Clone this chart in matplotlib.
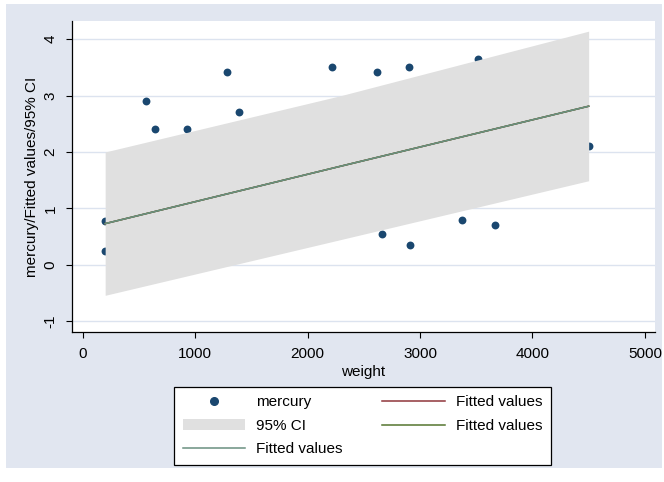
import numpy as np
import matplotlib
matplotlib.use("Agg")
import matplotlib.pyplot as plt
from matplotlib.patches import Rectangle, Patch
from matplotlib.lines import Line2D

# mercury vs weight observations
weight = [200, 200, 560, 640, 930, 1280, 1390, 2220, 2620, 2900,
          2665, 2915, 3370, 3515, 3665, 4500]
mercury = [0.77, 0.24, 2.91, 2.41, 2.41, 3.41, 2.71, 3.51, 3.41, 3.51,
           0.55, 0.35, 0.80, 3.64, 0.70, 2.11]

# linear fit and its 95% band, read at a few weights
fit_x = [200, 2300, 4500]
fit_y = [0.73, 1.75, 2.81]
ci_lo = [-0.54, 0.45, 1.49]
ci_hi = [2.00, 3.00, 4.14]

W, H = 664, 482
plt.rcParams['font.family'] = ['Liberation Sans', 'DejaVu Sans']
plt.rcParams['axes.unicode_minus'] = False
fs = 11

fig = plt.figure(figsize=(W / 100, H / 100), dpi=100, facecolor="white")
# graph region
fig.patches.append(Rectangle((6 / W, 1 - 468 / H), (662 - 6) / W, (468 - 4) / H,
                             transform=fig.transFigure, facecolor="#E1E6F0",
                             edgecolor="none", zorder=-10))

L, R, T, B = 72, 655, 21, 332
ax = fig.add_axes([L / W, 1 - B / H, (R - L) / W, (B - T) / H])
ax.set_facecolor("white")

ax.scatter(weight, mercury, s=32, color="#1A476F", zorder=2, linewidths=0)
ax.fill_between(fit_x, ci_lo, ci_hi, color="#E0E0E0", linewidth=0, zorder=3)
ax.plot(fit_x, fit_y, color="#90353B", lw=1.1, zorder=4)
ax.plot(fit_x, fit_y, color="#55752F", lw=1.1, zorder=5)
ax.plot(fit_x, fit_y, color="#6A9080", lw=1.1, zorder=6)

ax.set_xlim(-95, 5090)
ax.set_ylim(-1.19, 4.32)
ax.set_xticks(np.arange(0, 5001, 1000))
ax.set_yticks(np.arange(-1, 5, 1))
ax.yaxis.grid(True, color="#DCE3EF", linewidth=1.0, zorder=1)
ax.set_axisbelow(True)

for s in ("top", "right"):
    ax.spines[s].set_visible(False)
for s in ("left", "bottom"):
    ax.spines[s].set_linewidth(0.9)
ax.tick_params(axis="both", direction="out", length=4.5, width=0.8, labelsize=fs)
ax.tick_params(axis="x", pad=6)
ax.tick_params(axis="y", pad=6)
for lab in ax.get_yticklabels():
    lab.set_rotation(90)
    lab.set_va("center")

ax.set_xlabel("weight", fontsize=fs, labelpad=3)
ax.set_ylabel("mercury/Fitted values/95% CI", fontsize=fs, labelpad=3)

handles = [
    Line2D([], [], linestyle="none", marker="o", markersize=5.5, color="#1A476F"),
    Patch(facecolor="#E0E0E0", edgecolor="none"),
    Line2D([], [], color="#6A9080", lw=1.1),
    Line2D([], [], color="#90353B", lw=1.1),
    Line2D([], [], color="#55752F", lw=1.1),
]
labels = ["mercury", "95% CI", "Fitted values", "Fitted values", "Fitted values"]
leg = fig.legend(handles, labels, loc="upper center", ncol=2,
                 bbox_to_anchor=(362.5 / W, 1 - 387 / H), fontsize=fs,
                 borderaxespad=0, frameon=True, fancybox=False,
                 edgecolor="black", framealpha=1,
                 handlelength=4.1, handletextpad=0.7, columnspacing=2.6,
                 labelspacing=0.62, borderpad=0.55)
leg.get_frame().set_linewidth(0.9)
leg.get_frame().set_facecolor("white")

fig.savefig("out.png", dpi=100, facecolor="white")
